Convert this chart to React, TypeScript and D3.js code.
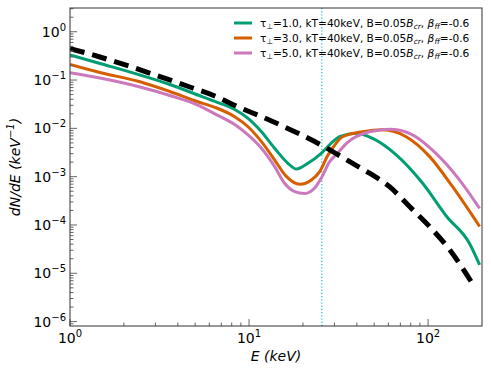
import React from "react";
import * as d3 from "d3";

// E (keV) and dN/dE
const blackE = [1.0, 1.47, 2.16, 3.18, 4.67, 6.44, 8.1, 12.6, 18.4, 27.1, 35.1, 47.1, 60.9, 78.8, 101.8, 131.6, 180];
const blackV = [0.449, 0.3, 0.191, 0.118, 0.0718, 0.0467, 0.0312, 0.0156, 0.0082, 0.00392, 0.00222, 0.00118, 6.2e-4, 2.4e-4, 9.3e-5, 3.1e-5, 5.5e-6];

const greenE = [1.0, 1.47, 2.46, 3.61, 5.17, 6.44, 8.32, 9.87, 11.73, 13.9, 16.5, 18.37, 21.3, 25.3, 29.4, 32, 39.8, 49, 66.6, 93, 127, 170, 194];
const greenV = [0.33, 0.22, 0.127, 0.081, 0.049, 0.036, 0.0245, 0.0161, 0.00853, 0.00386, 0.00189, 0.00144, 0.00189, 0.00305, 0.0053, 0.0067, 0.0079, 0.0062, 0.0028, 7.4e-4, 1.5e-4, 4.2e-5, 1.5e-5];

const orangeE = [1.0, 1.47, 2.46, 3.61, 5.17, 6.44, 8.32, 9.87, 11.73, 13.9, 16.2, 19.2, 22.3, 24.8, 27.6, 29.3, 33.3, 43, 55.7, 75.4, 102, 137, 194];
const orangeV = [0.21, 0.143, 0.0923, 0.058, 0.0356, 0.0273, 0.0174, 0.0108, 0.0053, 0.00221, 0.001, 6.96e-4, 8.55e-4, 0.00127, 0.00281, 0.00392, 0.0067, 0.0085, 0.0093, 0.0067, 0.0026, 6.2e-4, 9.3e-5];

const pinkE = [1.0, 1.47, 2.46, 3.61, 5.17, 6.44, 8.32, 9.87, 11.73, 13.9, 15.8, 18.0, 20.45, 23.2, 25.3, 28.2, 30.8, 35, 47, 61, 78.7, 111, 150, 194];
const pinkV = [0.142, 0.11, 0.0718, 0.0479, 0.0304, 0.02, 0.012, 0.0073, 0.00386, 0.00161, 7.3e-4, 4.9e-4, 4.5e-4, 5.75e-4, 9.3e-4, 0.00204, 0.0029, 0.0049, 0.0085, 0.0096, 0.0079, 0.003, 8.5e-4, 2.2e-4];

const tauLabels = ["1.0", "3.0", "5.0"];
const seriesColors = ["#029e73", "#d55e00", "#cc78bc"];
const cutoffE = 25.5;

const xMajor = [1, 10, 100];
const yMajor = [1, 1e-1, 1e-2, 1e-3, 1e-4, 1e-5, 1e-6];

const W = 491;
const H = 374;
const m = { left: 70, right: 9, top: 8, bottom: 48 };
const font = "DejaVu Sans, sans-serif";

const App = () => {
  const x = d3.scaleLog().domain([1, 200]).range([m.left, W - m.right]);
  const y = d3.scaleLog().domain([8.1e-7, 3.1]).range([H - m.bottom, m.top]);

  const line = d3
    .line<[number, number]>()
    .x((d) => x(d[0]))
    .y((d) => y(d[1]))
    .curve(d3.curveMonotoneX);

  const zip = (e: number[], v: number[]) => e.map((d, i) => [d, v[i]] as [number, number]);
  const series = [zip(greenE, greenV), zip(orangeE, orangeV), zip(pinkE, pinkV)];

  const xMinor: number[] = [];
  xMajor.forEach((b) => {
    for (let k = 2; k <= 9; k++) if (b * k < 200) xMinor.push(b * k);
  });
  const yMinor: number[] = [];
  [1, 1e-1, 1e-2, 1e-3, 1e-4, 1e-5, 1e-6, 1e-7].forEach((b) => {
    for (let k = 2; k <= 9; k++) {
      const v = b * k;
      if (v > 8.1e-7 && v < 3.1) yMinor.push(v);
    }
  });

  const [x0, x1] = x.range();
  const [y0, y1] = y.range();
  const exp = (v: number) => {
    const e = Math.round(Math.log10(v));
    return e < 0 ? "\u2212" + Math.abs(e) : String(e);
  };

  return (
    <svg width={W} height={H} style={{ position: "absolute", left: 0, top: 0 }} fontFamily={font}>
      <rect width={W} height={H} fill="white" />
      <defs>
        <clipPath id="plot">
          <rect x={x0} y={y1} width={x1 - x0} height={y0 - y1} />
        </clipPath>
      </defs>

      <g clipPath="url(#plot)">
        <line x1={x(cutoffE)} x2={x(cutoffE)} y1={y1} y2={y0} stroke="#00bfbf" strokeWidth={1.2} strokeDasharray="1.2 2" />
        {series.map((s, i) => (
          <path key={i} d={line(s) || ""} fill="none" stroke={seriesColors[i]} strokeWidth={3} />
        ))}
        <path d={line(zip(blackE, blackV)) || ""} fill="none" stroke="black" strokeWidth={5} strokeDasharray="15 8" />
      </g>

      {/* ticks, inward on left and bottom */}
      {xMinor.map((t) => (
        <line key={"xm" + t} x1={x(t)} x2={x(t)} y1={y0} y2={y0 - 3.5} stroke="#666" />
      ))}
      {xMajor.map((t) => (
        <g key={"xM" + t}>
          <line x1={x(t)} x2={x(t)} y1={y0} y2={y0 - 7} stroke="#666" />
          <text x={x(t)} y={y0 + 17} textAnchor="middle" fontSize={14}>
            10<tspan dy={-6} fontSize={10}>{exp(t)}</tspan>
          </text>
        </g>
      ))}
      {yMinor.map((t) => (
        <line key={"ym" + t} x1={x0} x2={x0 + 3.5} y1={y(t)} y2={y(t)} stroke="#666" />
      ))}
      {yMajor.map((t) => (
        <g key={"yM" + t}>
          <line x1={x0} x2={x0 + 7} y1={y(t)} y2={y(t)} stroke="#666" />
          <text x={x0 - 4} y={y(t) + 5} textAnchor="end" fontSize={14}>
            10<tspan dy={-6} fontSize={10}>{exp(t)}</tspan>
          </text>
        </g>
      ))}

      <rect x={x0} y={y1} width={x1 - x0} height={y0 - y1} fill="none" stroke="#333" strokeWidth={1} />

      {/* legend */}
      {tauLabels.map((tau, i) => {
        const ly = 23 + i * 15;
        return (
          <g key={tau}>
            <line x1={234} x2={252} y1={ly} y2={ly} stroke={seriesColors[i]} strokeWidth={3} />
            <text x={260} y={ly + 3.5} fontSize={10.6}>
              τ<tspan dy={2} fontSize={7.5}>⊥</tspan>
              <tspan dy={-2}>{`=${tau}, kT=40keV, B=0.05`}</tspan>
              <tspan fontStyle="italic">B</tspan>
              <tspan dy={2} fontSize={7.5} fontStyle="italic">cr</tspan>
              <tspan dy={-2}>, </tspan>
              <tspan fontStyle="italic">β</tspan>
              <tspan dy={2} fontSize={7.5} fontStyle="italic">ff</tspan>
              <tspan dy={-2}>=-0.6</tspan>
            </text>
          </g>
        );
      })}

      {/* axis labels */}
      <text x={(x0 + x1) / 2} y={361} textAnchor="middle" fontSize={14} fontStyle="italic">
        E (keV)
      </text>
      <text transform={`translate(20,${(y0 + y1) / 2}) rotate(-90)`} textAnchor="middle" fontSize={14} fontStyle="italic">
        dN/dE (keV<tspan dy={-6} fontSize={10}>−1</tspan>
        <tspan dy={6}>)</tspan>
      </text>
    </svg>
  );
};

export default App;
